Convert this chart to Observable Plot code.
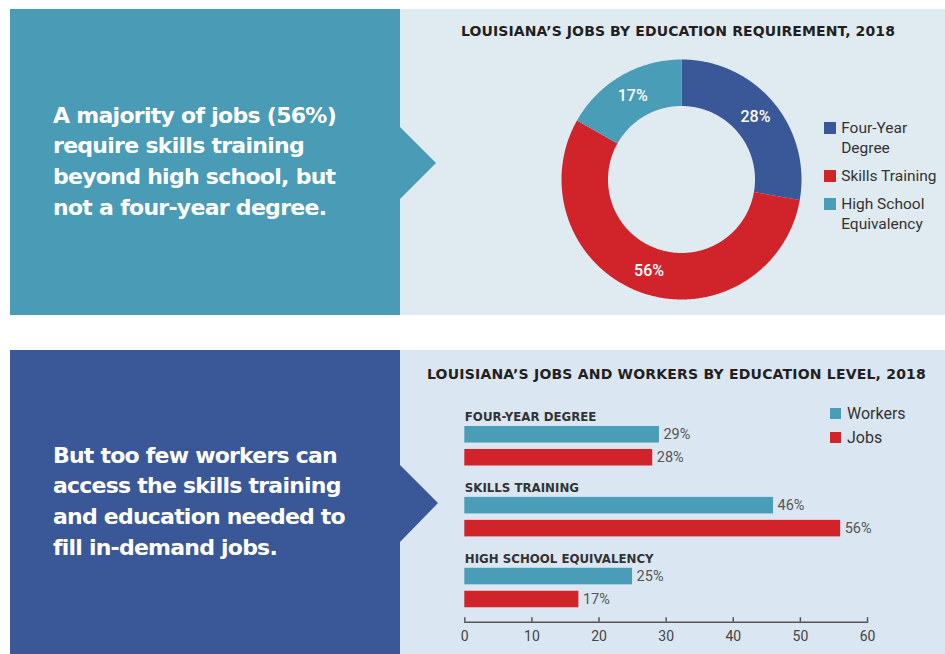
<!DOCTYPE html>
<html>
<head>
<meta charset="utf-8">
<script src="https://cdn.jsdelivr.net/npm/d3@7"></script>
<script src="https://cdn.jsdelivr.net/npm/@observablehq/plot@0.6"></script>
<style>
  body { margin: 0; background: #fff; font-family: Roboto, "Noto Sans", sans-serif; }
  #root { position: relative; width: 945px; height: 654px; overflow: hidden; background: #fff; }
  .abs { position: absolute; }
  .block { display: flex; align-items: center; box-sizing: border-box; padding-left: 43px;
           color: #fff; font-family: "DejaVu Sans", sans-serif; font-weight: 700; font-size: 22px;
           line-height: 30.6px; white-space: nowrap; }
  .title { white-space: nowrap; font-family: "DejaVu Sans", sans-serif; font-weight: 700; font-size: 14px;
           line-height: 20px; color: #231f20; }
  .leg-item { display: flex; align-items: flex-start; }
  .leg-sw { flex: none; }
  .leg-tx { color: #333; }
</style>
</head>
<body>
<div id="root"></div>
<script>
// ---------- data ----------
const eduLevels = ["Four-Year Degree", "Skills Training", "High School Equivalency"];
const jobShares = [28, 56, 17];
const workerShares = [29, 46, 25];
const seriesNames = ["Workers", "Jobs"];
const xTicks = [0, 10, 20, 30, 40, 50, 60];
const donutTitle = "LOUISIANA\u2019S JOBS BY EDUCATION REQUIREMENT, 2018";
const barTitle = "LOUISIANA\u2019S JOBS AND WORKERS BY EDUCATION LEVEL, 2018";
const headlineTop = ["A majority of jobs (56%)", "require skills training", "beyond high school, but", "not a four-year degree."];
const headlineBottom = ["But too few workers can", "access the skills training", "and education needed to", "fill in-demand jobs."];

// ---------- colours ----------
const TEAL_BLOCK = "#4a9bb5";
const NAVY = "#3a5897";
const RED = "#d1232a";
const TEAL = "#4a9db7";
const BG_TOP = "#e0ebf1";
const BG_BOTTOM = "#dbe6f3";
const donutColors = [NAVY, RED, TEAL];
const seriesColors = [TEAL, RED];

const root = document.getElementById("root");
function box(left, top, width, height, css = "") {
  const d = document.createElement("div");
  d.className = "abs";
  d.style.cssText += `left:${left}px;top:${top}px;width:${width}px;height:${height}px;${css}`;
  root.appendChild(d);
  return d;
}
// stretch a text's tracking so that its first line reaches the measured width of the reference
function fitTracking(container, span, target) {
  container.style.letterSpacing = "0px";
  const w = span.getBoundingClientRect().width;
  const n = span.textContent.length;
  container.style.letterSpacing = ((target - w) / n) + "px";
}

// ---------- panels ----------
box(400, 9, 545, 306, `background:${BG_TOP}`);
box(400, 350, 545, 304, `background:${BG_BOTTOM}`);

function headline(el, lines, target) {
  el.classList.add("block");
  const inner = document.createElement("div");
  lines.forEach(l => {
    const row = document.createElement("div");
    const sp = document.createElement("span");
    sp.textContent = l;
    row.appendChild(sp);
    inner.appendChild(row);
  });
  el.appendChild(inner);
  fitTracking(inner, inner.querySelector("span"), target);
}
const topBlock = box(10, 9, 426, 306,
  `background:${TEAL_BLOCK};clip-path:polygon(0 0,390px 0,390px 118px,426px 154px,390px 190px,390px 306px,0 306px)`);
headline(topBlock, headlineTop, 283);
const botBlock = box(10, 350, 428, 304,
  `background:${NAVY};clip-path:polygon(0 0,390px 0,390px 115px,428px 153px,390px 192px,390px 304px,0 304px)`);
headline(botBlock, headlineBottom, 284);

// ---------- titles ----------
function title(left, top, text, target) {
  const t = box(left, top, 520, 20);
  t.classList.add("title");
  const sp = document.createElement("span");
  sp.textContent = text;
  t.appendChild(sp);
  fitTracking(t, sp, target);
}
title(461, 21, donutTitle, 434);
title(427, 364, barTitle, 499);

// ---------- donut ----------
const donutW = 280, donutH = 260, cx = donutW / 2, cy = donutH / 2;
const outerR = 120, innerR = 73.5;
const pieRows = eduLevels.map((category, i) => ({category, value: jobShares[i]}));
const slices = d3.pie().sort(null).value(d => d.value)(pieRows);
const ringPoint = (r, a) => [cx + r * Math.sin(a), cy - r * Math.cos(a)];
function sliceFeature(s) {
  const n = Math.max(8, Math.ceil((s.endAngle - s.startAngle) / (Math.PI / 360)));
  const ring = [];
  for (let k = 0; k <= n; k++) ring.push(ringPoint(outerR, s.startAngle + (s.endAngle - s.startAngle) * k / n));
  for (let k = n; k >= 0; k--) ring.push(ringPoint(innerR, s.startAngle + (s.endAngle - s.startAngle) * k / n));
  ring.push(ring[0]);
  return {type: "Feature", properties: {category: s.data.category}, geometry: {type: "Polygon", coordinates: [ring]}};
}
const sliceFeatures = slices.map(sliceFeature);
const arcGen = d3.arc().innerRadius(innerR).outerRadius(outerR);

const donut = Plot.plot({
  width: donutW,
  height: donutH,
  margin: 0,
  projection: "identity",
  x: {type: "identity"},
  y: {type: "identity"},
  style: {background: "transparent", fontFamily: "Roboto, sans-serif", overflow: "visible"},
  color: {domain: eduLevels, range: donutColors},
  marks: [
    Plot.geo(sliceFeatures, {fill: d => d.properties.category}),
    Plot.text(slices, {
      x: s => cx + arcGen.centroid(s)[0],
      y: s => cy + arcGen.centroid(s)[1],
      text: s => s.data.value + "%",
      fill: "#fff", fontSize: 16, fontWeight: 500
    })
  ]
});
box(540.5, 49, donutW, donutH).appendChild(donut);

// donut legend
const leg1 = box(824, 118, 121, 120);
eduLevels.forEach((c, i) => {
  const it = document.createElement("div");
  it.className = "leg-item";
  it.style.marginBottom = "8px";
  it.innerHTML = `<div class="leg-sw" style="width:11.5px;height:11.5px;margin-top:4.25px;background:${donutColors[i]}"></div>` +
    `<div class="leg-tx" style="margin-left:5.7px;width:112px;line-height:20px;font-size:15.5px">${c}</div>`;
  leg1.appendChild(it);
});

// ---------- bars ----------
const barRows = eduLevels.flatMap((level, i) => [
  {level, series: "Workers", value: workerShares[i]},
  {level, series: "Jobs", value: jobShares[i]}
]);
const bars = Plot.plot({
  width: 545,
  height: 254,
  marginLeft: 64.3,
  marginRight: 78,
  marginTop: 26,
  marginBottom: 32.3,
  style: {background: "transparent", fontFamily: "Roboto, sans-serif", overflow: "visible"},
  x: {domain: [0, 60], axis: null},
  y: {domain: seriesNames, paddingInner: 0.28, paddingOuter: 0.314, align: 0, round: false, axis: null},
  fy: {domain: eduLevels, paddingInner: 0.2394, paddingOuter: 0, round: false, axis: null},
  color: {domain: seriesNames, range: seriesColors},
  marks: [
    Plot.barX(barRows, {fy: "level", y: "series", x: "value", fill: "series"}),
    Plot.text(barRows, {fy: "level", y: "series", x: "value", text: d => d.value + "%",
      textAnchor: "start", dx: 4, fill: "#555", fontSize: 14.5}),
    Plot.text(eduLevels, {fy: d => d, text: d => d.toUpperCase(), frameAnchor: "top-left",
      textAnchor: "start", lineAnchor: "middle", dy: -9.3, fontFamily: "DejaVu Sans, sans-serif",
      fontWeight: 700, fontSize: 11.8, fill: "#333"}),
    Plot.frame({anchor: "bottom", facetAnchor: "bottom", stroke: "#555", strokeWidth: 1.5}),
    Plot.tickX(xTicks, {x: d => d, facetAnchor: "bottom", insetTop: 49.4, stroke: "#555", strokeWidth: 1.5}),
    Plot.axisX({ticks: xTicks, tickSize: 0, tickPadding: 9, fontSize: 14, color: "#444", label: null})
  ]
});
box(400, 400, 545, 254).appendChild(bars);

// bar legend
const leg2 = box(830, 402.35, 115, 50);
seriesNames.forEach((s, i) => {
  const it = document.createElement("div");
  it.className = "leg-item";
  it.innerHTML = `<div class="leg-sw" style="width:11px;height:11px;margin-top:6.15px;background:${seriesColors[i]}"></div>` +
    `<div class="leg-tx" style="margin-left:6px;line-height:23.3px;white-space:nowrap;font-size:16px">${s}</div>`;
  leg2.appendChild(it);
});
</script>
</body>
</html>
